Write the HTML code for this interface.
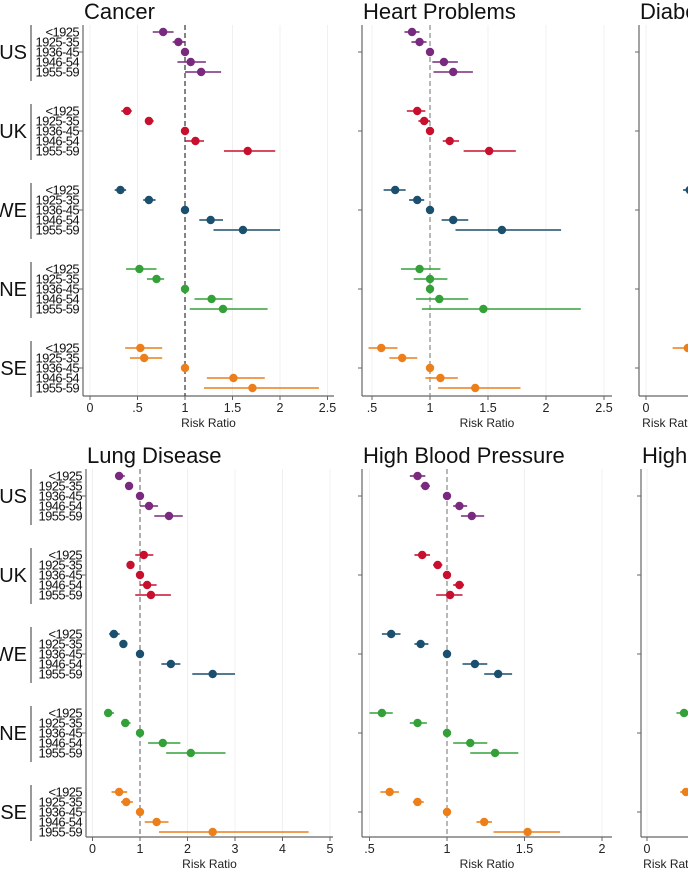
<!DOCTYPE html>
<html><head><meta charset="utf-8"><style>
html,body{margin:0;padding:0;background:#fff;}
svg{display:block;font-family:"Liberation Sans",Arial,sans-serif;}
</style></head><body>
<svg id="fig" width="688" height="873" viewBox="0 0 688 873" xmlns="http://www.w3.org/2000/svg"></svg>
<script>
const groups = ["US","UK","WE","NE","SE"];
const cohorts = ["<1925","1925-35","1936-45","1946-54","1955-59"];
const groupColors = ["#7a2a7e","#c8102e","#1b4f6e","#34a038","#ec7f1a"];

// Cancer
const cancerRR = [[0.77,0.93,1,1.06,1.17],[0.39,0.62,1,1.11,1.66],[0.32,0.62,1,1.27,1.61],[0.52,0.70,1,1.28,1.40],[0.53,0.57,1,1.51,1.71]];
const cancerLo = [[0.66,0.87,1,0.92,1.00],[0.33,0.58,1,1.00,1.41],[0.26,0.56,1,1.15,1.30],[0.38,0.60,1,1.10,1.05],[0.37,0.42,1,1.23,1.20]];
const cancerHi = [[0.88,1.00,1,1.22,1.38],[0.44,0.67,1,1.20,1.95],[0.38,0.69,1,1.40,2.00],[0.70,0.78,1,1.50,1.87],[0.76,0.76,1,1.84,2.41]];
// Heart problems
const heartRR = [[0.845,0.91,1,1.12,1.20],[0.89,0.95,1,1.17,1.51],[0.70,0.89,1,1.20,1.62],[0.91,1.00,1,1.08,1.46],[0.58,0.76,1,1.09,1.39]];
const heartLo = [[0.78,0.84,1,1.02,1.03],[0.80,0.90,1,1.11,1.29],[0.60,0.82,1,1.10,1.22],[0.75,0.86,1,0.88,0.93],[0.47,0.65,1,0.96,1.07]];
const heartHi = [[0.91,0.97,1,1.24,1.37],[0.96,1.00,1,1.25,1.74],[0.79,0.95,1,1.33,2.13],[1.09,1.15,1,1.33,2.30],[0.72,0.89,1,1.24,1.78]];
// Diabetes (mostly off-canvas)
const diabRR = [[1,1,1,1,1],[1,1,1,1,1],[0.46,1,1,1,1],[1,1,1,1,1],[0.44,1,1,1,1]];
const diabLo = [[1,1,1,1,1],[1,1,1,1,1],[0.39,1,1,1,1],[1,1,1,1,1],[0.28,1,1,1,1]];
const diabHi = [[1,1,1,1,1],[1,1,1,1,1],[0.55,1,1,1,1],[1,1,1,1,1],[0.60,1,1,1,1]];
// Lung disease
const lungRR = [[0.56,0.77,1,1.19,1.61],[1.08,0.80,1,1.15,1.23],[0.45,0.65,1,1.65,2.53],[0.33,0.69,1,1.48,2.07],[0.56,0.71,1,1.35,2.53]];
const lungLo = [[0.48,0.72,1,1.00,1.30],[0.90,0.72,1,1.00,0.90],[0.35,0.62,1,1.45,2.10],[0.25,0.60,1,1.17,1.55],[0.40,0.60,1,1.10,1.40]];
const lungHi = [[0.68,0.82,1,1.38,1.90],[1.28,0.88,1,1.35,1.65],[0.57,0.68,1,1.85,3.00],[0.45,0.80,1,1.85,2.80],[0.73,0.85,1,1.60,4.55]];
// High blood pressure
const hbpRR = [[0.81,0.86,1,1.08,1.16],[0.84,0.94,1,1.08,1.02],[0.64,0.83,1,1.18,1.33],[0.58,0.81,1,1.15,1.31],[0.63,0.81,1,1.24,1.52]];
const hbpLo = [[0.76,0.83,1,1.04,1.09],[0.79,0.91,1,1.04,0.93],[0.58,0.79,1,1.10,1.24],[0.50,0.76,1,1.04,1.15],[0.57,0.78,1,1.19,1.30]];
const hbpHi = [[0.86,0.89,1,1.13,1.24],[0.89,0.97,1,1.11,1.10],[0.70,0.88,1,1.26,1.42],[0.65,0.87,1,1.26,1.46],[0.69,0.85,1,1.29,1.73]];
// High cholesterol (mostly off-canvas)
const cholRR = [[1,1,1,1,1],[1,1,1,1,1],[1,1,1,1,1],[0.78,1,1,1,1],[0.82,1,1,1,1]];
const cholLo = [[1,1,1,1,1],[1,1,1,1,1],[1,1,1,1,1],[0.62,1,1,1,1],[0.70,1,1,1,1]];
const cholHi = [[1,1,1,1,1],[1,1,1,1,1],[1,1,1,1,1],[0.95,1,1,1,1],[0.95,1,1,1,1]];

const ticksA = [0,0.5,1,1.5,2,2.5];
const ticksALabels = ["0",".5","1","1.5","2","2.5"];
const ticksB = [0.5,1,1.5,2,2.5];
const ticksBLabels = [".5","1","1.5","2","2.5"];
const ticksC = [0,1,2,3,4,5];
const ticksCLabels = ["0","1","2","3","4","5"];
const ticksD = [0.5,1,1.5,2];
const ticksDLabels = [".5","1","1.5","2"];
const ticksZ = [0];
const ticksZLabels = ["0"];

const NS = "http://www.w3.org/2000/svg";
const svg = document.getElementById("fig");
function mk(tag, attrs, parent) {
  const e = document.createElementNS(NS, tag);
  for (const k in attrs) e.setAttribute(k, attrs[k]);
  (parent || svg).appendChild(e);
  return e;
}
function txt(str, attrs, parent) { const t = mk("text", attrs, parent); t.textContent = str; return t; }

function panel(cfg) {
  const g = mk("g", {});
  
  
  const xs = v => cfg.x0 + cfg.k * v;
  const rowY = (gi, ci) => cfg.firstY + gi * 79 + ci * 10;
  const top = cfg.firstY - 7, bot = cfg.axisY;
  const t = txt(cfg.title, {x: cfg.axisX + 1, y: cfg.firstY - 13, "font-size": 22, fill: "#111"}, g);
  
  
  cfg.ticks.forEach((v, i) => {
    const x = xs(v);
    if (v !== 1 && x > cfg.axisX + 2) {
      const gl = mk("line", {x1: x, x2: x, y1: top, y2: bot, stroke: "#f0f0f0", "stroke-width": 1}, g);
      
      
    }
  });
  const ya = mk("line", {x1: cfg.axisX, x2: cfg.axisX, y1: top, y2: bot, stroke: "#666", "stroke-width": 1.2}, g);
  
  
  const xa = mk("line", {x1: cfg.axisX, x2: cfg.right, y1: bot, y2: bot, stroke: "#666", "stroke-width": 1.2}, g);
  
  
  cfg.ticks.forEach((v, i) => {
    const x = xs(v);
    mk("line", {x1: x, x2: x, y1: bot, y2: bot + 4, stroke: "#666", "stroke-width": 1}, g);
    const tl = txt(cfg.tickLabels[i], {x: x, y: bot + 16, "font-size": 12.5, "text-anchor": "middle", fill: "#222"}, g);
    
    
  });
  const xt = txt("Risk Ratio", {x: (cfg.axisX + cfg.right) / 2, y: bot + 31, "font-size": 12, "text-anchor": "middle", fill: "#222"}, g);
  
  
  groups.forEach((gname, gi) => {
    const yc = rowY(gi, 2);
    mk("line", {x1: cfg.axisX - 4, x2: cfg.axisX, y1: yc, y2: yc, stroke: "#666", "stroke-width": 1}, g);
    if (cfg.labels) {
      const gl = txt(gname, {x: 27, y: yc + 7, "font-size": 20, "text-anchor": "end", fill: "#111"}, g);
      
      
      const br = mk("line", {x1: 31, x2: 31, y1: rowY(gi, 0) - 7, y2: rowY(gi, 4) + 9, stroke: "#555", "stroke-width": 1.2}, g);
      
      
      cohorts.forEach((c, ci) => {
        const cl = txt(c, {x: cfg.axisX - 4, y: rowY(gi, ci) + 4.5, "font-size": 13, "text-anchor": "end", fill: "#111", "letter-spacing": "-0.6"}, g);
        
        
      });
    }
  });
  const rl = mk("line", {x1: xs(1), x2: xs(1), y1: top, y2: bot, stroke: cfg.refColor, "stroke-width": 1.2, "stroke-dasharray": "5,3"}, g);
  
  
  groups.forEach((gname, gi) => {
    cohorts.forEach((c, ci) => {
      const y = rowY(gi, ci);
      const col = groupColors[gi];
      const lo = cfg.lo[gi][ci], hi = cfg.hi[gi][ci];
      if (hi > lo) {
        const ci_ = mk("line", {x1: xs(lo), x2: xs(hi), y1: y, y2: y, stroke: col, "stroke-width": 1.6}, g);
        
        
      }
      const p = mk("circle", {cx: xs(cfg.rr[gi][ci]), cy: y, r: 4.2, fill: col}, g);
      
      
    });
  });
}

panel({name: "cancer", title: "Cancer", rr: cancerRR, lo: cancerLo, hi: cancerHi, axisX: 83, x0: 90, k: 95, right: 334, firstY: 32, axisY: 396, ticks: ticksA, tickLabels: ticksALabels, labels: true, refColor: "#333"});
panel({name: "heart-problems", title: "Heart Problems", rr: heartRR, lo: heartLo, hi: heartHi, axisX: 362, x0: 314, k: 116, right: 612, firstY: 32, axisY: 396, ticks: ticksB, tickLabels: ticksBLabels, labels: false, refColor: "#888"});
panel({name: "diabetes", title: "Diabetes", rr: diabRR, lo: diabLo, hi: diabHi, axisX: 639, x0: 646, k: 95, right: 700, firstY: 32, axisY: 396, ticks: ticksZ, tickLabels: ticksZLabels, labels: false, refColor: "#888"});
panel({name: "lung-disease", title: "Lung Disease", rr: lungRR, lo: lungLo, hi: lungHi, axisX: 86, x0: 92.5, k: 47.5, right: 333, firstY: 476, axisY: 837, ticks: ticksC, tickLabels: ticksCLabels, labels: true, refColor: "#777"});
panel({name: "high-blood-pressure", title: "High Blood Pressure", rr: hbpRR, lo: hbpLo, hi: hbpHi, axisX: 362, x0: 292, k: 155, right: 612, firstY: 476, axisY: 837, ticks: ticksD, tickLabels: ticksDLabels, labels: false, refColor: "#888"});
panel({name: "high-cholesterol", title: "High Cholesterol", rr: cholRR, lo: cholLo, hi: cholHi, axisX: 641, x0: 647, k: 47.5, right: 700, firstY: 476, axisY: 837, ticks: ticksZ, tickLabels: ticksZLabels, labels: false, refColor: "#888"});
</script>
</body></html>
